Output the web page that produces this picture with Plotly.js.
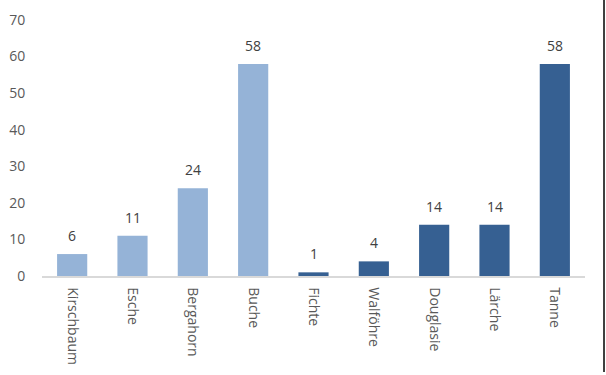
<!DOCTYPE html>
<html><head><meta charset="utf-8">
<script src="https://cdn.plot.ly/plotly-3.0.1.min.js"></script>
<style>html,body{margin:0;padding:0;background:#fff;}#c{width:606px;height:375px;}</style>
</head><body><div id="c"></div>
<script>
const categories = ["Kirschbaum","Esche","Bergahorn","Buche","Fichte","Walföhre","Douglasie","Lärche","Tanne"];
const values = [6,11,24,58,1,4,14,14,58];
const groups = ["light","light","light","light","dark","dark","dark","dark","dark"];
const yTicks = [0,10,20,30,40,50,60,70];

const colorMap = {light:"#95B3D7", dark:"#366092"};
const colors = groups.map(g => colorMap[g]);

const trace = {
  type:"bar", x:categories, y:values,
  marker:{color:colors}, hoverinfo:"none"
};
const annotations = categories.map((c,i)=>({
  x:c, y:values[i], xref:"x", yref:"y", text:String(values[i]),
  showarrow:false, yanchor:"bottom", yshift:7,
  font:{family:"Open Sans, Calibri, sans-serif", size:14, color:"#404040"}
}));
const layout = {
  width:606, height:375,
  margin:{l:42, r:21, t:20, b:99},
  paper_bgcolor:"#fff", plot_bgcolor:"#fff",
  bargap:0.5, showlegend:false,
  font:{family:"Open Sans, Calibri, sans-serif", size:14, color:"#595959"},
  xaxis:{type:"category", tickangle:90, showline:true, linecolor:"#D9D9D9", linewidth:1.5,
    ticks:"outside", ticklen:7, tickcolor:"rgba(0,0,0,0)", showgrid:false, zeroline:false,
    tickfont:{size:14, color:"#595959"}},
  yaxis:{range:[0,70], tickvals:yTicks, showgrid:false, zeroline:false, showline:false,
    ticks:"outside", ticklen:13, tickcolor:"rgba(0,0,0,0)",
    tickfont:{size:14, color:"#595959"}},
  annotations:annotations,
  shapes:[{type:"line", xref:"paper", yref:"paper", x0:1.035, x1:1.035, y0:-0.375, y1:1.08,
    line:{color:"#000", width:1.5}}]
};
Plotly.newPlot("c",[trace],layout,{displayModeBar:false, staticPlot:true});
</script></body></html>
